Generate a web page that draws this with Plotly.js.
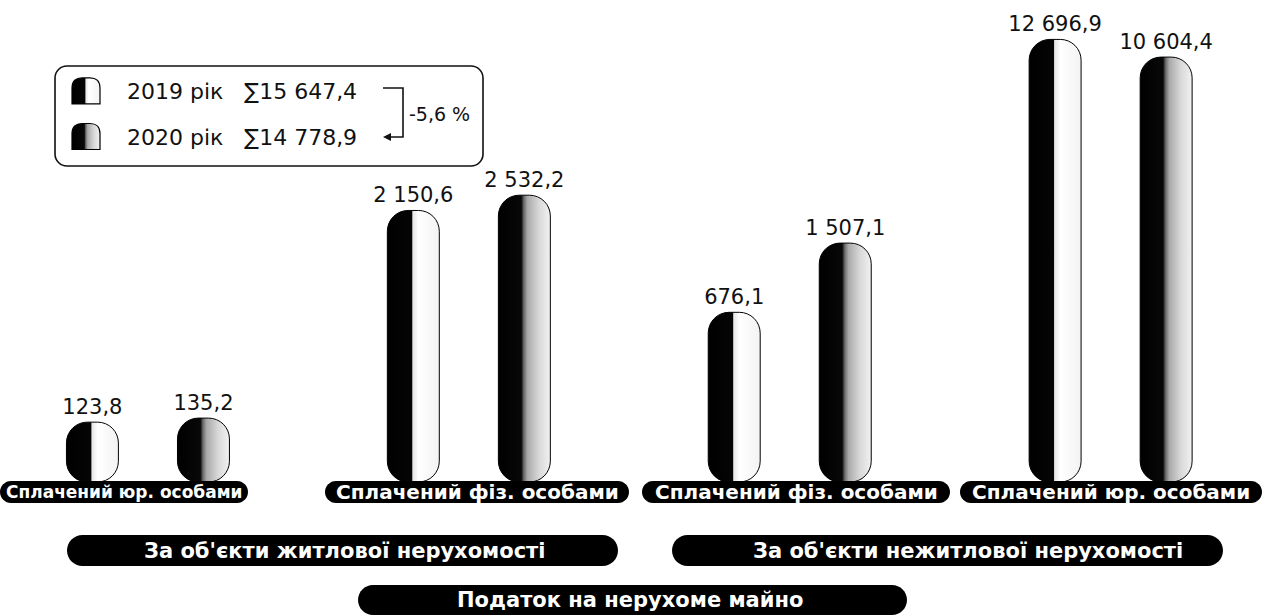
<!DOCTYPE html>
<html>
<head>
<meta charset="utf-8">
<script src="https://cdn.plot.ly/plotly-3.0.1.min.js"></script>
<style>
  html, body { margin: 0; padding: 0; background: #fff; }
  #chart { width: 1273px; height: 616px; }
</style>
</head>
<body>
<div id="chart"></div>
<script>
// ---------------- data ----------------
const objectGroups = ["За об'єкти житлової нерухомості", "За об'єкти житлової нерухомості",
                      "За об'єкти нежитлової нерухомості", "За об'єкти нежитлової нерухомості"];
const payers = ["Сплачений юр. особами", "Сплачений фіз. особами",
                "Сплачений фіз. особами", "Сплачений юр. особами"];
const years = ["2019 рік", "2020 рік"];
const values2019 = [123.8, 2150.6, 676.1, 12696.9];
const values2020 = [135.2, 2532.2, 1507.1, 10604.4];
const chartTitle = "Податок на нерухоме майно";

// ---------------- helpers ----------------
function fmt(v) {
  const s = v.toFixed(1);
  const [i, d] = s.split('.');
  return i.replace(/\B(?=(\d{3})+(?!\d))/g, ' ') + ',' + d;
}
const sum = a => a.reduce((p, c) => p + c, 0);
const total2019 = sum(values2019);
const total2020 = sum(values2020);
const change = ((total2020 / total2019 - 1) * 100).toFixed(1).replace('.', ',') + ' %';

const W = 1273, H = 616, PH = 482;           // plot area height (top margin 0)
const X = p => p / W;
const Y = p => (PH - p) / PH;

function roundRect(x0, y0, x1, y1, r) {
  const k = 0.5523 * r;
  const P = (x, y) => X(x).toFixed(5) + ',' + Y(y).toFixed(5);
  return 'M' + P(x0 + r, y0) +
    ' L' + P(x1 - r, y0) +
    ' C' + P(x1 - r + k, y0) + ' ' + P(x1, y0 + r - k) + ' ' + P(x1, y0 + r) +
    ' L' + P(x1, y1 - r) +
    ' C' + P(x1, y1 - r + k) + ' ' + P(x1 - r + k, y1) + ' ' + P(x1 - r, y1) +
    ' L' + P(x0 + r, y1) +
    ' C' + P(x0 + r - k, y1) + ' ' + P(x0, y1 - r + k) + ' ' + P(x0, y1 - r) +
    ' L' + P(x0, y0 + r) +
    ' C' + P(x0, y0 + r - k) + ' ' + P(x0 + r - k, y0) + ' ' + P(x0 + r, y0) + ' Z';
}

// ---------------- traces ----------------
// unique category per bar group (object type + payer)
const categories = objectGroups.map((g, i) => g + ' | ' + payers[i]);
const numFont = { family: 'DejaVu Sans', size: 21, color: '#111' };
const nb = '\u00a0';
function barTrace(vals, name, grp) {
  return {
    type: 'bar',
    x: categories,
    y: vals,
    base: 150,
    name: name + nb + nb + nb + '∑' + fmt(sum(vals)).replace(/ /g, nb),
    legendgroup: grp,
    text: vals.map(fmt),
    textposition: 'outside',
    constraintext: 'none',
    cliponaxis: false,
    textfont: numFont,
    marker: { color: '#888', cornerradius: '40%', line: { color: '#000', width: 1 } },
    hoverinfo: 'skip'
  };
}
const traces = [barTrace(values2019, years[0], 'a'), barTrace(values2020, years[1], 'b')];

// ---------------- layout pieces ----------------
const shapes = [];
const annotations = [];

// legend frame + bracket
shapes.push({ type: 'path', xref: 'paper', yref: 'paper', path: roundRect(55, 66, 483, 166, 12),
  line: { color: '#111', width: 1.6 }, fillcolor: 'rgba(0,0,0,0)', layer: 'below' });
shapes.push({ type: 'path', xref: 'paper', yref: 'paper',
  path: 'M' + X(383) + ',' + Y(88) + ' L' + X(403) + ',' + Y(88) + ' L' + X(403) + ',' + Y(137) + ' L' + X(388) + ',' + Y(137),
  line: { color: '#111', width: 1.6 } });
annotations.push({ xref: 'paper', yref: 'paper', x: X(383), y: Y(137), ax: 8, ay: 0, text: '',
  showarrow: true, arrowhead: 2, arrowsize: 1, arrowwidth: 1.6, arrowcolor: '#111' });
annotations.push({ xref: 'paper', yref: 'paper', x: X(407), y: Y(114), xanchor: 'left', yanchor: 'middle',
  text: change, showarrow: false, font: { family: 'DejaVu Sans', size: 19, color: '#111' } });

// pill labels
function pill(x0, y0, x1, y1, text, size, tx) {
  const h = y1 - y0;
  shapes.push({ type: 'path', xref: 'paper', yref: 'paper', path: roundRect(x0, y0, x1, y1, h / 2),
    fillcolor: '#000', line: { width: 0 }, layer: 'above' });
  annotations.push({ xref: 'paper', yref: 'paper', x: X(tx === undefined ? (x0 + x1) / 2 : tx), y: Y((y0 + y1) / 2),
    xanchor: 'center', yanchor: 'middle', text: text, showarrow: false,
    font: { family: 'DejaVu Sans', size: size, color: '#fff', weight: 700 } });
}
const row1 = [[0, 481, 248, 503, 17], [325, 481, 629, 503, 20], [642, 481, 950, 503, 20], [960, 481, 1262, 503, 20]];
row1.forEach((r, i) => pill(r[0], r[1], r[2], r[3], payers[i], r[4]));
const uniqueGroups = objectGroups.filter((g, i) => objectGroups.indexOf(g) === i);
pill(67, 535, 618, 566, uniqueGroups[0], 21, 345);
pill(672, 535, 1223, 566, uniqueGroups[1], 21, 968);
pill(358, 585, 907, 615, chartTitle, 21, 630);

const y0 = Math.log10(150);
const layout = {
  width: W, height: H,
  margin: { l: 0, r: 0, t: 0, b: H - PH, pad: 0 },
  paper_bgcolor: '#fff', plot_bgcolor: '#fff',
  barmode: 'group', bargap: 0.308, bargroupgap: 0.532,
  xaxis: { type: 'category', range: [-0.461, 3.506], visible: false, fixedrange: true },
  yaxis: { type: 'log', range: [y0, y0 + 2.1048], visible: false, fixedrange: true },
  showlegend: true,
  legend: { x: X(57), y: Y(70), xanchor: 'left', yanchor: 'top', orientation: 'v',
    bgcolor: 'rgba(0,0,0,0)', borderwidth: 0, itemwidth: 60, tracegroupgap: 14,
    traceorder: 'grouped', itemclick: false, itemdoubleclick: false,
    font: { family: 'DejaVu Sans', size: 22, color: '#111' } },
  shapes: shapes,
  annotations: annotations,
  hovermode: false
};

Plotly.newPlot('chart', traces, layout, { displayModeBar: false, staticPlot: true }).then(gd => {
  const svgNS = 'http://www.w3.org/2000/svg';
  const defs = gd.querySelector('.main-svg defs');
  const stopsets = [
    [[0, '#000'], [0.47, '#050505'], [0.49, '#e6e6e6'], [0.6, '#ffffff'], [1, '#f3f3f3']],
    [[0, '#000'], [0.44, '#080808'], [0.49, '#6a6a6a'], [0.56, '#a9a9a9'], [0.78, '#d8d8d8'], [1, '#f2f2f2']]
  ];
  stopsets.forEach((stops, i) => {
    const g = document.createElementNS(svgNS, 'linearGradient');
    g.setAttribute('id', 'bargrad' + i);
    g.setAttribute('x1', '0'); g.setAttribute('x2', '1');
    g.setAttribute('y1', '0'); g.setAttribute('y2', '0');
    stops.forEach(s => {
      const st = document.createElementNS(svgNS, 'stop');
      st.setAttribute('offset', s[0]);
      st.setAttribute('stop-color', s[1]);
      g.appendChild(st);
    });
    defs.appendChild(g);
  });
  gd.querySelectorAll('.barlayer .trace').forEach((tr, i) => {
    tr.querySelectorAll('.point path').forEach(p => { p.style.fill = 'url(#bargrad' + i + ')'; });
  });
  gd.querySelectorAll('.legend .traces').forEach((tr, i) => {
    const txt = tr.querySelector('text.legendtext');
    const tb = txt.getBoundingClientRect();
    tr.querySelectorAll('.legendpoints path').forEach(p => {
      p.setAttribute('d', 'M-14,13V-3C-14,-10 -10,-13 -4,-13H4C10,-13 14,-10 14,-3V13Z');
      p.removeAttribute('transform');
      const pb = p.getBoundingClientRect();
      const dx = (tb.left - 41) - (pb.left + pb.width / 2);
      const dy = (tb.top + tb.height / 2 - 1) - (pb.top + pb.height / 2);
      p.setAttribute('transform', 'translate(' + dx.toFixed(1) + ',' + dy.toFixed(1) + ')');
      p.style.fill = 'url(#bargrad' + i + ')';
      p.style.stroke = '#000';
      p.style.strokeWidth = '1.2px';
    });
  });
});
</script>
</body>
</html>
